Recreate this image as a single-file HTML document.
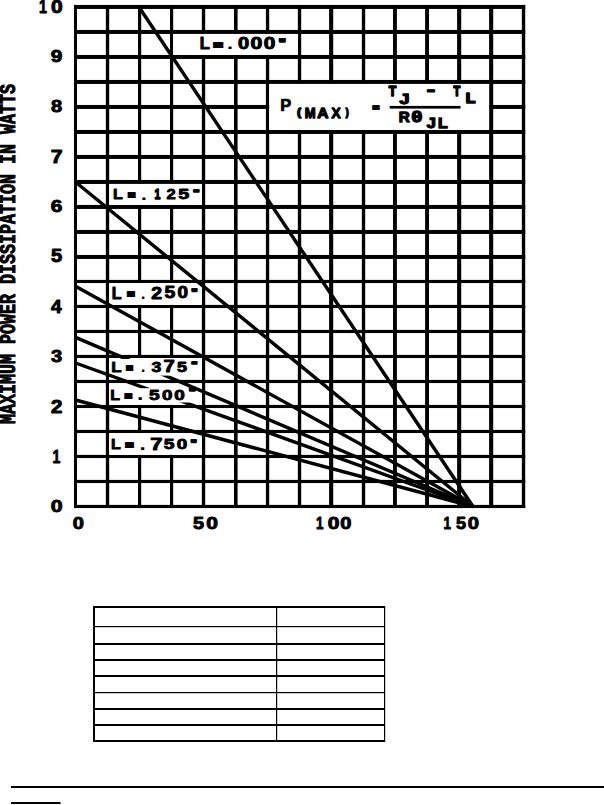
<!DOCTYPE html>
<html><head><meta charset="utf-8"><title>Maximum Power Dissipation</title>
<style>html,body{margin:0;padding:0;background:#fff;width:604px;height:805px;overflow:hidden}svg{display:block}text{fill:#000}</style>
</head><body>
<svg width="604" height="805" viewBox="0 0 604 805">
<rect width="604" height="805" fill="#fff"/>
<g fill="#000">
<rect x="74" y="4.95" width="3.0" height="503.10"/>
<rect x="105.85" y="4.95" width="3.35" height="503.10"/>
<rect x="138" y="4.95" width="3.2" height="503.10"/>
<rect x="170" y="4.95" width="3.2" height="503.10"/>
<rect x="201.85" y="4.95" width="3.35" height="503.10"/>
<rect x="234" y="4.95" width="3.6" height="503.10"/>
<rect x="265.9" y="4.95" width="3.3" height="503.10"/>
<rect x="297.85" y="4.95" width="3.35" height="503.10"/>
<rect x="329.1" y="4.95" width="4.1" height="503.10"/>
<rect x="361.85" y="4.95" width="3.35" height="503.10"/>
<rect x="393" y="4.95" width="3.9" height="503.10"/>
<rect x="425.1" y="4.95" width="3.9" height="503.10"/>
<rect x="457.1" y="4.95" width="4.1" height="503.10"/>
<rect x="489.1" y="4.95" width="4.1" height="503.10"/>
<rect x="521.85" y="4.95" width="3.35" height="503.10"/>
<rect x="74" y="4.95" width="451.20" height="4.0"/>
<rect x="74" y="29.95" width="451.20" height="4.0"/>
<rect x="74" y="54.95" width="451.20" height="4.0"/>
<rect x="74" y="79.95" width="451.20" height="4.0"/>
<rect x="74" y="104.95" width="451.20" height="4.0"/>
<rect x="74" y="129.95" width="451.20" height="4.0"/>
<rect x="74" y="154.95" width="451.20" height="4.0"/>
<rect x="74" y="179.95" width="451.20" height="4.0"/>
<rect x="74" y="204.95" width="451.20" height="4.0"/>
<rect x="74" y="229.95" width="451.20" height="4.0"/>
<rect x="74" y="254.95" width="451.20" height="4.0"/>
<rect x="74" y="279.90" width="451.20" height="3.15"/>
<rect x="74" y="304.90" width="451.20" height="3.15"/>
<rect x="74" y="329.90" width="451.20" height="3.15"/>
<rect x="74" y="354.90" width="451.20" height="3.15"/>
<rect x="74" y="379.90" width="451.20" height="3.15"/>
<rect x="74" y="404.90" width="451.20" height="3.15"/>
<rect x="74" y="429.90" width="451.20" height="3.15"/>
<rect x="74" y="454.90" width="451.20" height="3.15"/>
<rect x="74" y="479.90" width="451.20" height="3.15"/>
<rect x="74" y="504.90" width="451.20" height="3.15"/>
</g>
<rect x="173.2" y="33.95" width="124.65" height="21.00" fill="#fff"/>
<rect x="269.2" y="83.95" width="219.90" height="46.00" fill="#fff"/>
<rect x="109.19999999999999" y="183.95" width="92.65" height="21.00" fill="#fff"/>
<rect x="109.19999999999999" y="283.04999999999995" width="92.65" height="21.85" fill="#fff"/>
<rect x="109.19999999999999" y="358.04999999999995" width="92.65" height="21.85" fill="#fff"/>
<rect x="109.19999999999999" y="383.04999999999995" width="92.65" height="21.85" fill="#fff"/>
<rect x="109.19999999999999" y="379.90" width="92.65" height="3.15" fill="#000"/>
<rect x="109.19999999999999" y="433.04999999999995" width="92.65" height="21.85" fill="#fff"/>
<line x1="75.5" y1="400" x2="473" y2="506.5" stroke="#000" stroke-width="3.45"/>
<text transform="translate(110.94 449.45) scale(1.033 1)" font-family="'Liberation Sans', sans-serif" font-weight="bold" font-size="15.51" stroke="#000" stroke-width="0.90" stroke-linejoin="round">L</text>
<text transform="translate(125.58 449.30) scale(1.353 1)" font-family="'Liberation Sans', sans-serif" font-weight="bold" font-size="10.00" stroke="#000" stroke-width="1.80" stroke-linejoin="round">=</text>
<text transform="translate(139.78 449.60) scale(1.140 1)" font-family="'Liberation Sans', sans-serif" font-weight="bold" font-size="18.00" stroke="#000" stroke-width="0.20" stroke-linejoin="round">.</text>
<text transform="translate(150.25 449.61) scale(1.398 1)" font-family="'Liberation Sans', sans-serif" font-weight="bold" font-size="15.74" stroke="#000" stroke-width="0.90" stroke-linejoin="round">7</text>
<text transform="translate(163.79 449.30) scale(1.253 1)" font-family="'Liberation Sans', sans-serif" font-weight="bold" font-size="15.29" stroke="#000" stroke-width="0.90" stroke-linejoin="round">5</text>
<text transform="translate(176.81 449.30) scale(1.253 1)" font-family="'Liberation Sans', sans-serif" font-weight="bold" font-size="15.07" stroke="#000" stroke-width="0.90" stroke-linejoin="round">0</text>
<text transform="translate(190.64 445.55) scale(1.339 1)" font-family="'Liberation Sans', sans-serif" font-weight="bold" font-size="9.20" stroke="#000" stroke-width="1.80" stroke-linejoin="round">"</text>
<line x1="75.5" y1="363" x2="473" y2="506.5" stroke="#000" stroke-width="3.45"/>
<rect x="110" y="388.2" width="87" height="14.3" fill="#fff"/>
<text transform="translate(110.14 400.05) scale(1.033 1)" font-family="'Liberation Sans', sans-serif" font-weight="bold" font-size="15.51" stroke="#000" stroke-width="0.90" stroke-linejoin="round">L</text>
<text transform="translate(124.72 399.90) scale(1.235 1)" font-family="'Liberation Sans', sans-serif" font-weight="bold" font-size="10.00" stroke="#000" stroke-width="1.80" stroke-linejoin="round">=</text>
<text transform="translate(137.24 400.20) scale(1.176 1)" font-family="'Liberation Sans', sans-serif" font-weight="bold" font-size="18.00" stroke="#000" stroke-width="0.20" stroke-linejoin="round">.</text>
<text transform="translate(148.89 399.90) scale(1.253 1)" font-family="'Liberation Sans', sans-serif" font-weight="bold" font-size="15.29" stroke="#000" stroke-width="0.90" stroke-linejoin="round">5</text>
<text transform="translate(161.91 399.90) scale(1.240 1)" font-family="'Liberation Sans', sans-serif" font-weight="bold" font-size="15.07" stroke="#000" stroke-width="0.90" stroke-linejoin="round">0</text>
<text transform="translate(174.31 399.90) scale(1.253 1)" font-family="'Liberation Sans', sans-serif" font-weight="bold" font-size="15.07" stroke="#000" stroke-width="0.90" stroke-linejoin="round">0</text>
<text transform="translate(188.88 395.80) scale(1.423 1)" font-family="'Liberation Sans', sans-serif" font-weight="bold" font-size="10.00" stroke="#000" stroke-width="1.80" stroke-linejoin="round">"</text>
<line x1="75.5" y1="337.3" x2="473" y2="506.5" stroke="#000" stroke-width="3.45"/>
<rect x="110" y="359" width="30" height="15" fill="#fff"/>
<rect x="140" y="359" width="60" height="16.6" fill="#fff"/>
<text transform="translate(111.31 371.95) scale(1.090 1)" font-family="'Liberation Sans', sans-serif" font-weight="bold" font-size="15.51" stroke="#000" stroke-width="0.90" stroke-linejoin="round">L</text>
<text transform="translate(126.26 371.70) scale(1.118 1)" font-family="'Liberation Sans', sans-serif" font-weight="bold" font-size="10.00" stroke="#000" stroke-width="1.80" stroke-linejoin="round">=</text>
<text transform="translate(140.93 372.10) scale(0.876 1)" font-family="'Liberation Sans', sans-serif" font-weight="bold" font-size="17.33" stroke="#000" stroke-width="0.20" stroke-linejoin="round">.</text>
<text transform="translate(151.57 371.80) scale(1.174 1)" font-family="'Liberation Sans', sans-serif" font-weight="bold" font-size="15.07" stroke="#000" stroke-width="0.90" stroke-linejoin="round">3</text>
<text transform="translate(163.57 372.11) scale(1.290 1)" font-family="'Liberation Sans', sans-serif" font-weight="bold" font-size="15.74" stroke="#000" stroke-width="0.90" stroke-linejoin="round">7</text>
<text transform="translate(176.99 371.80) scale(1.171 1)" font-family="'Liberation Sans', sans-serif" font-weight="bold" font-size="15.29" stroke="#000" stroke-width="0.90" stroke-linejoin="round">5</text>
<text transform="translate(191.76 366.92) scale(1.685 1)" font-family="'Liberation Sans', sans-serif" font-weight="bold" font-size="6.40" stroke="#000" stroke-width="1.80" stroke-linejoin="round">"</text>
<line x1="75.5" y1="286.2" x2="473" y2="506.5" stroke="#000" stroke-width="3.45"/>
<text transform="translate(111.82 298.55) scale(1.000 1)" font-family="'Liberation Sans', sans-serif" font-weight="bold" font-size="16.09" stroke="#000" stroke-width="0.90" stroke-linejoin="round">L</text>
<text transform="translate(127.17 298.37) scale(1.189 1)" font-family="'Liberation Sans', sans-serif" font-weight="bold" font-size="10.53" stroke="#000" stroke-width="1.80" stroke-linejoin="round">=</text>
<text transform="translate(140.93 299.00) scale(0.876 1)" font-family="'Liberation Sans', sans-serif" font-weight="bold" font-size="17.33" stroke="#000" stroke-width="0.20" stroke-linejoin="round">.</text>
<text transform="translate(151.37 298.55) scale(1.223 1)" font-family="'Liberation Sans', sans-serif" font-weight="bold" font-size="15.86" stroke="#000" stroke-width="0.90" stroke-linejoin="round">2</text>
<text transform="translate(164.57 298.39) scale(1.223 1)" font-family="'Liberation Sans', sans-serif" font-weight="bold" font-size="15.86" stroke="#000" stroke-width="0.90" stroke-linejoin="round">5</text>
<text transform="translate(177.59 298.39) scale(1.212 1)" font-family="'Liberation Sans', sans-serif" font-weight="bold" font-size="15.63" stroke="#000" stroke-width="0.90" stroke-linejoin="round">0</text>
<text transform="translate(191.44 294.75) scale(1.339 1)" font-family="'Liberation Sans', sans-serif" font-weight="bold" font-size="9.20" stroke="#000" stroke-width="1.80" stroke-linejoin="round">"</text>
<line x1="75.5" y1="182" x2="473" y2="506.5" stroke="#000" stroke-width="3.45"/>
<text transform="translate(113.05 199.35) scale(1.051 1)" font-family="'Liberation Sans', sans-serif" font-weight="bold" font-size="15.22" stroke="#000" stroke-width="0.90" stroke-linejoin="round">L</text>
<text transform="translate(127.89 198.68) scale(1.100 1)" font-family="'Liberation Sans', sans-serif" font-weight="bold" font-size="11.32" stroke="#000" stroke-width="1.80" stroke-linejoin="round">=</text>
<text transform="translate(141.09 199.50) scale(1.180 1)" font-family="'Liberation Sans', sans-serif" font-weight="bold" font-size="17.33" stroke="#000" stroke-width="0.20" stroke-linejoin="round">.</text>
<text transform="translate(154.38 199.10) scale(0.731 1)" font-family="'Liberation Sans', sans-serif" font-weight="bold" font-size="14.49" stroke="#000" stroke-width="1.40" stroke-linejoin="round">1</text>
<text transform="translate(166.50 199.35) scale(1.103 1)" font-family="'Liberation Sans', sans-serif" font-weight="bold" font-size="15.00" stroke="#000" stroke-width="0.90" stroke-linejoin="round">2</text>
<text transform="translate(178.30 199.20) scale(1.310 1)" font-family="'Liberation Sans', sans-serif" font-weight="bold" font-size="15.00" stroke="#000" stroke-width="0.90" stroke-linejoin="round">5</text>
<text transform="translate(193.54 194.57) scale(1.624 1)" font-family="'Liberation Sans', sans-serif" font-weight="bold" font-size="7.20" stroke="#000" stroke-width="1.80" stroke-linejoin="round">"</text>
<line x1="139.3" y1="7.5" x2="473" y2="506.5" stroke="#000" stroke-width="3.45"/>
<text transform="translate(199.70 49.25) scale(1.013 1)" font-family="'Liberation Sans', sans-serif" font-weight="bold" font-size="16.23" stroke="#000" stroke-width="0.90" stroke-linejoin="round">L</text>
<text transform="translate(213.43 48.58) scale(1.408 1)" font-family="'Liberation Sans', sans-serif" font-weight="bold" font-size="11.32" stroke="#000" stroke-width="1.80" stroke-linejoin="round">=</text>
<text transform="translate(227.24 49.40) scale(1.184 1)" font-family="'Liberation Sans', sans-serif" font-weight="bold" font-size="16.67" stroke="#000" stroke-width="0.20" stroke-linejoin="round">.</text>
<text transform="translate(237.97 49.09) scale(1.275 1)" font-family="'Liberation Sans', sans-serif" font-weight="bold" font-size="15.77" stroke="#000" stroke-width="0.90" stroke-linejoin="round">0</text>
<text transform="translate(250.56 49.09) scale(1.347 1)" font-family="'Liberation Sans', sans-serif" font-weight="bold" font-size="15.77" stroke="#000" stroke-width="0.90" stroke-linejoin="round">0</text>
<text transform="translate(263.76 49.09) scale(1.323 1)" font-family="'Liberation Sans', sans-serif" font-weight="bold" font-size="15.77" stroke="#000" stroke-width="0.90" stroke-linejoin="round">0</text>
<text transform="translate(278.75 46.63) scale(1.320 1)" font-family="'Liberation Sans', sans-serif" font-weight="bold" font-size="11.20" stroke="#000" stroke-width="1.80" stroke-linejoin="round">"</text>
<text transform="translate(280.20 110.55) scale(1.011 1)" font-family="'Liberation Sans', sans-serif" font-weight="bold" font-size="16.23" stroke="#000" stroke-width="0.70" stroke-linejoin="round">P</text>
<text transform="translate(297.30 115.63) scale(1.069 1)" font-family="'Liberation Sans', sans-serif" font-weight="bold" font-size="10.32" stroke="#000" stroke-width="1.60" stroke-linejoin="round">(</text>
<text transform="translate(304.66 117.65) scale(0.884 1)" font-family="'Liberation Sans', sans-serif" font-weight="bold" font-size="14.78" stroke="#000" stroke-width="1.30" stroke-linejoin="round">M</text>
<text transform="translate(317.19 117.80) scale(1.018 1)" font-family="'Liberation Sans', sans-serif" font-weight="bold" font-size="15.29" stroke="#000" stroke-width="1.30" stroke-linejoin="round">A</text>
<text transform="translate(331.47 117.65) scale(0.929 1)" font-family="'Liberation Sans', sans-serif" font-weight="bold" font-size="14.78" stroke="#000" stroke-width="1.30" stroke-linejoin="round">X</text>
<text transform="translate(345.76 115.56) scale(0.830 1)" font-family="'Liberation Sans', sans-serif" font-weight="bold" font-size="10.21" stroke="#000" stroke-width="1.60" stroke-linejoin="round">)</text>
<text transform="translate(372.92 109.97) scale(1.324 1)" font-family="'Liberation Sans', sans-serif" font-weight="bold" font-size="7.63" stroke="#000" stroke-width="2.00" stroke-linejoin="round">=</text>
<text transform="translate(388.74 96.00) scale(0.833 1)" font-family="'Liberation Sans', sans-serif" font-weight="bold" font-size="14.78" stroke="#000" stroke-width="1.60" stroke-linejoin="round">T</text>
<text transform="translate(399.55 103.81) scale(1.237 1)" font-family="'Liberation Sans', sans-serif" font-weight="bold" font-size="14.43" stroke="#000" stroke-width="1.30" stroke-linejoin="round">J</text>
<text transform="translate(426.35 96.27) scale(1.440 1)" font-family="'Liberation Sans', sans-serif" font-weight="bold" font-size="19.58" stroke="#000" stroke-width="0.80" stroke-linejoin="round">-</text>
<text transform="translate(453.60 96.00) scale(0.768 1)" font-family="'Liberation Sans', sans-serif" font-weight="bold" font-size="14.49" stroke="#000" stroke-width="1.60" stroke-linejoin="round">T</text>
<text transform="translate(465.69 102.70) scale(1.118 1)" font-family="'Liberation Sans', sans-serif" font-weight="bold" font-size="14.06" stroke="#000" stroke-width="1.60" stroke-linejoin="round">L</text>
<rect x="389.7" y="105.9" width="70.8" height="2.7" fill="#000"/>
<text transform="translate(398.68 121.65) scale(1.001 1)" font-family="'Liberation Sans', sans-serif" font-weight="bold" font-size="15.22" stroke="#000" stroke-width="1.30" stroke-linejoin="round">R</text>
<text transform="translate(411.51 121.51) scale(1.393 1)" font-family="'Liberation Sans', sans-serif" font-weight="bold" font-size="14.19" stroke="#000" stroke-width="1.30" stroke-linejoin="round">θ</text>
<text transform="translate(426.81 127.91) scale(1.126 1)" font-family="'Liberation Sans', sans-serif" font-weight="bold" font-size="14.43" stroke="#000" stroke-width="1.30" stroke-linejoin="round">J</text>
<text transform="translate(437.89 128.05) scale(1.084 1)" font-family="'Liberation Sans', sans-serif" font-weight="bold" font-size="14.64" stroke="#000" stroke-width="1.30" stroke-linejoin="round">L</text>
<text transform="translate(39.08 13.45) scale(0.759 1)" font-family="'Liberation Sans', sans-serif" font-weight="bold" font-size="18.84" stroke="#000" stroke-width="0.90" stroke-linejoin="round">1</text>
<text transform="translate(50.98 13.27) scale(1.147 1)" font-family="'Liberation Sans', sans-serif" font-weight="bold" font-size="18.31" stroke="#000" stroke-width="0.90" stroke-linejoin="round">0</text>
<text transform="translate(50.71 62.48) scale(1.204 1)" font-family="'Liberation Sans', sans-serif" font-weight="bold" font-size="17.32" stroke="#000" stroke-width="0.90" stroke-linejoin="round">9</text>
<text transform="translate(50.92 112.48) scale(1.161 1)" font-family="'Liberation Sans', sans-serif" font-weight="bold" font-size="17.32" stroke="#000" stroke-width="0.90" stroke-linejoin="round">8</text>
<text transform="translate(50.68 162.83) scale(1.181 1)" font-family="'Liberation Sans', sans-serif" font-weight="bold" font-size="18.09" stroke="#000" stroke-width="0.90" stroke-linejoin="round">7</text>
<text transform="translate(50.71 212.48) scale(1.204 1)" font-family="'Liberation Sans', sans-serif" font-weight="bold" font-size="17.32" stroke="#000" stroke-width="0.90" stroke-linejoin="round">6</text>
<text transform="translate(50.91 262.47) scale(1.146 1)" font-family="'Liberation Sans', sans-serif" font-weight="bold" font-size="17.57" stroke="#000" stroke-width="0.90" stroke-linejoin="round">5</text>
<text transform="translate(51.10 312.65) scale(1.073 1)" font-family="'Liberation Sans', sans-serif" font-weight="bold" font-size="17.83" stroke="#000" stroke-width="0.90" stroke-linejoin="round">4</text>
<text transform="translate(51.12 362.48) scale(1.161 1)" font-family="'Liberation Sans', sans-serif" font-weight="bold" font-size="17.32" stroke="#000" stroke-width="0.90" stroke-linejoin="round">3</text>
<text transform="translate(50.91 412.65) scale(1.167 1)" font-family="'Liberation Sans', sans-serif" font-weight="bold" font-size="17.57" stroke="#000" stroke-width="0.90" stroke-linejoin="round">2</text>
<text transform="translate(52.41 462.65) scale(0.787 1)" font-family="'Liberation Sans', sans-serif" font-weight="bold" font-size="17.83" stroke="#000" stroke-width="0.90" stroke-linejoin="round">1</text>
<text transform="translate(50.70 512.48) scale(1.228 1)" font-family="'Liberation Sans', sans-serif" font-weight="bold" font-size="17.32" stroke="#000" stroke-width="0.90" stroke-linejoin="round">0</text>
<text transform="translate(72.74 529.18) scale(1.196 1)" font-family="'Liberation Sans', sans-serif" font-weight="bold" font-size="16.76" stroke="#000" stroke-width="0.90" stroke-linejoin="round">0</text>
<text transform="translate(192.93 529.18) scale(1.170 1)" font-family="'Liberation Sans', sans-serif" font-weight="bold" font-size="17.00" stroke="#000" stroke-width="0.90" stroke-linejoin="round">5</text>
<text transform="translate(206.22 529.18) scale(1.253 1)" font-family="'Liberation Sans', sans-serif" font-weight="bold" font-size="16.76" stroke="#000" stroke-width="0.90" stroke-linejoin="round">0</text>
<text transform="translate(316.05 529.35) scale(0.777 1)" font-family="'Liberation Sans', sans-serif" font-weight="bold" font-size="17.25" stroke="#000" stroke-width="0.90" stroke-linejoin="round">1</text>
<text transform="translate(327.72 529.18) scale(1.253 1)" font-family="'Liberation Sans', sans-serif" font-weight="bold" font-size="16.76" stroke="#000" stroke-width="0.90" stroke-linejoin="round">0</text>
<text transform="translate(340.24 529.18) scale(1.196 1)" font-family="'Liberation Sans', sans-serif" font-weight="bold" font-size="16.76" stroke="#000" stroke-width="0.90" stroke-linejoin="round">0</text>
<text transform="translate(443.55 529.35) scale(0.777 1)" font-family="'Liberation Sans', sans-serif" font-weight="bold" font-size="17.25" stroke="#000" stroke-width="0.90" stroke-linejoin="round">1</text>
<text transform="translate(455.94 529.18) scale(1.064 1)" font-family="'Liberation Sans', sans-serif" font-weight="bold" font-size="17.00" stroke="#000" stroke-width="0.90" stroke-linejoin="round">5</text>
<text transform="translate(467.73 529.18) scale(1.208 1)" font-family="'Liberation Sans', sans-serif" font-weight="bold" font-size="16.76" stroke="#000" stroke-width="0.90" stroke-linejoin="round">0</text>
<text transform="translate(15.2 424) rotate(-90)" x="0" y="0" font-family="'Liberation Mono', monospace" font-weight="bold" font-size="21.5" textLength="340" lengthAdjust="spacingAndGlyphs" stroke="#000" stroke-width="0.9">MAXIMUM POWER DISSIPATION IN WATTS</text>
<g fill="#000">
<rect x="93" y="606" width="292" height="2"/>
<rect x="93" y="740" width="292" height="2"/>
<rect x="93" y="606" width="2" height="136"/>
<rect x="384" y="606" width="1.2" height="136"/>
<rect x="276" y="606" width="1.2" height="136"/>
<rect x="93" y="626" width="292" height="1.2"/>
<rect x="93" y="643" width="292" height="2"/>
<rect x="93" y="659" width="292" height="2"/>
<rect x="93" y="675" width="292" height="2"/>
<rect x="93" y="692" width="292" height="1.2"/>
<rect x="93" y="708" width="292" height="2"/>
<rect x="93" y="724" width="292" height="2"/>
<rect x="11" y="786" width="593" height="2"/>
<rect x="11" y="802" width="49.5" height="2"/>
</g>
</svg>
</body></html>
